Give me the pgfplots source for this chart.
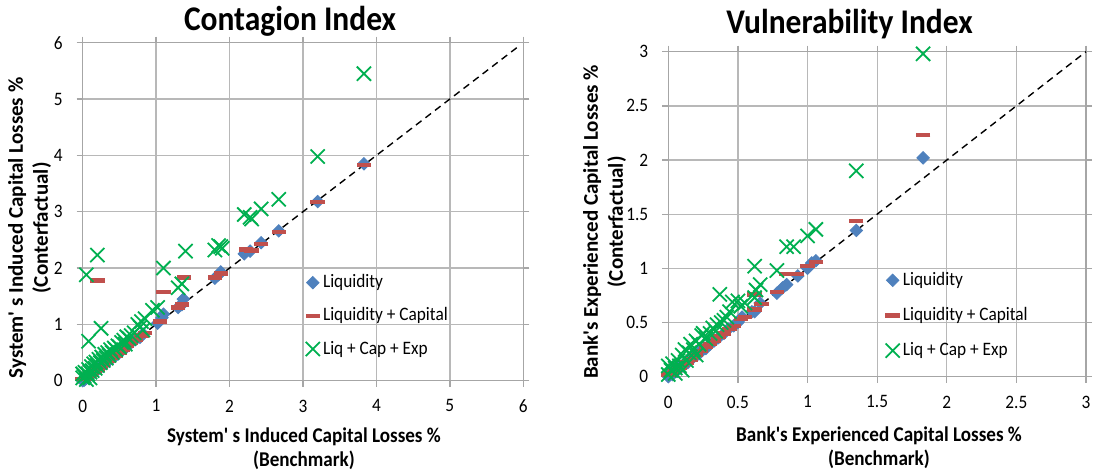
\documentclass[border=0pt]{standalone}
\usepackage{pgfplots}
\pgfplotsset{compat=1.18}
\usepackage{fontspec}
\setmainfont{Carlito}[Ligatures=TeXOff]
\newfontfamily\hfont{Carlito}[Ligatures=TeXOff, FakeStretch=0.91]
\definecolor{cblue}{HTML}{4F81BD}
\definecolor{cred}{HTML}{C0504D}
\definecolor{cgreen}{HTML}{00B050}
\pgfplotsset{
  mystyle/.style={
    scale only axis,
    axis line style={black!35, line width=0.65pt},
    grid=major,
    major grid style={black!28, line width=0.65pt},
    tick align=outside,
    major tick length=3pt,
    tick style={black!35, line width=0.65pt},
    ticklabel style={font=\hfont\fontsize{9.5}{11}\selectfont},
    xticklabel style={yshift=-3pt},
    yticklabel style={xshift=-3.5pt},
    /pgf/number format/assume math mode=true,
    clip=false,
    legend style={draw=none, fill=none, font=\hfont\fontsize{9.5}{11}\selectfont,
      anchor=north west, inner sep=0pt,
      nodes={inner xsep=1.5pt}},
    legend cell align=left,
    legend image code/.code={\draw[##1] plot[only marks] coordinates {(0.12cm,0cm)};},
  },
  liq/.style={only marks, mark=square*, mark size=2.2pt, color=cblue,
    mark options={rotate=45, draw=cblue, fill=cblue}},
  liqcap/.style={only marks, mark=-, mark size=3.6pt, color=cred,
    mark options={line width=2.2pt, draw=cred}},
  lce/.style={only marks, mark=x, mark size=5pt, color=cgreen,
    mark options={line width=0.9pt, draw=cgreen}},
  diag/.style={black, line width=0.7pt, dash pattern=on 3.5pt off 2.5pt, forget plot},
}
\begin{document}
\begin{tikzpicture}[x=1pt,y=1pt]
\path[use as bounding box] (0,0) rectangle (546.5,236);
\begin{axis}[mystyle,
  at={(41.35pt,45.65pt)}, anchor=south west,
  width=220.3pt, height=169pt,
  xmin=0, xmax=6, ymin=0, ymax=6,
  xtick={0,1,2,3,4,5,6}, ytick={0,1,2,3,4,5,6},
  legend style={at={(0.505,0.327)}, row sep=4.5pt},
]
\addplot[liq] coordinates {
(0,0) (0.02,0.01) (0.04,0.03) (0.05,0.05) (0.07,0.06) (0.08,0.08) (0.1,0.1)
(0.12,0.11) (0.14,0.14) (0.16,0.16) (0.18,0.17) (0.2,0.2) (0.22,0.22) (0.24,0.23)
(0.27,0.27) (0.3,0.3) (0.33,0.33) (0.36,0.36) (0.4,0.4) (0.44,0.44) (0.48,0.47)
(0.52,0.52) (0.56,0.57) (0.6,0.6) (0.65,0.66) (0.72,0.73) (0.78,0.77) (0.82,0.83)
(1.02,1.02) (1.08,1.12) (1.1,1.18) (1.3,1.3) (1.35,1.35) (1.37,1.45) (1.8,1.82)
(1.85,1.88) (1.88,1.93) (2.2,2.25) (2.28,2.3) (2.43,2.45) (2.67,2.66) (3.2,3.18)
(3.83,3.85)};
\addlegendentry{Liquidity}
\addplot[liqcap] coordinates {
(0,0.03) (0.03,0.03) (0.05,0.05) (0.08,0.09) (0.1,0.1) (0.13,0.14) (0.16,0.16)
(0.2,0.2) (0.2,1.78) (0.24,0.25) (0.28,0.28) (0.32,0.33) (0.36,0.36) (0.4,0.41)
(0.45,0.45) (0.5,0.5) (0.55,0.55) (0.6,0.62) (0.65,0.67) (0.72,0.72) (0.8,0.8)
(0.85,0.85) (1.05,1.05) (1.1,1.57) (1.3,1.3) (1.35,1.35) (1.38,1.83) (1.8,1.83)
(1.88,1.9) (2.22,2.33) (2.3,2.31) (2.43,2.43) (2.67,2.64) (3.2,3.17) (3.83,3.83)};
\addlegendentry{Liquidity + Capital}
\addplot[lce] coordinates {
(0,0.05) (0,0.12) (0.02,0.08) (0.03,0.15) (0.05,0.02) (0.05,1.88) (0.07,0.12)
(0.08,0.7) (0.08,0.2) (0.1,0.15) (0.1,0.05) (0.12,0.25) (0.13,0.18) (0.15,0.3)
(0.17,0.22) (0.18,0.33) (0.2,0.27) (0.2,2.23) (0.22,0.38) (0.24,0.32) (0.25,0.93)
(0.26,0.42) (0.28,0.36) (0.3,0.47) (0.32,0.4) (0.34,0.5) (0.36,0.45) (0.38,0.55)
(0.4,0.5) (0.43,0.58) (0.45,0.55) (0.48,0.62) (0.5,0.6) (0.53,0.68) (0.56,0.72)
(0.58,0.65) (0.6,0.78) (0.63,0.75) (0.66,0.8) (0.7,0.85) (0.75,1.0) (0.78,0.95)
(0.8,1.05) (0.82,0.9) (0.85,1.1) (0.95,1.25) (1.02,1.3) (1.1,2.0) (1.3,1.65)
(1.35,1.72) (1.4,2.3) (1.8,2.32) (1.85,2.4) (1.88,2.38) (1.9,2.35) (2.2,2.95)
(2.28,2.9) (2.3,2.87) (2.43,3.05) (2.67,3.22) (3.2,3.98) (3.83,5.45)};
\addlegendentry{Liq + Cap + Exp}
\addplot[diag] coordinates {(0,0) (5.95,5.95)};
\end{axis}
\begin{axis}[mystyle,
  at={(334.15pt,47.65pt)}, anchor=south west,
  width=208.85pt, height=162.5pt,
  xmin=0, xmax=3, ymin=0, ymax=3,
  xtick={0,0.5,1,1.5,2,2.5,3}, ytick={0,0.5,1,1.5,2,2.5,3},
  legend style={at={(0.519,0.335)}, row sep=5.5pt},
]
\addplot[liq] coordinates {
(0,0) (0.01,0.02) (0.03,0.02) (0.04,0.05) (0.06,0.05) (0.08,0.09) (0.1,0.1)
(0.12,0.12) (0.14,0.13) (0.16,0.17) (0.18,0.18) (0.2,0.2) (0.22,0.21) (0.24,0.25)
(0.27,0.26) (0.3,0.3) (0.33,0.33) (0.36,0.36) (0.4,0.4) (0.43,0.44) (0.47,0.47)
(0.5,0.5) (0.53,0.55) (0.6,0.6) (0.62,0.6) (0.66,0.68) (0.78,0.77) (0.82,0.82)
(0.85,0.85) (0.93,0.93) (1.0,1.0) (1.03,1.05) (1.06,1.07) (1.35,1.35) (1.83,2.02)};
\addlegendentry{Liquidity}
\addplot[liqcap] coordinates {
(0,0.02) (0.02,0.03) (0.05,0.05) (0.08,0.08) (0.1,0.11) (0.13,0.13) (0.16,0.16)
(0.2,0.2) (0.23,0.24) (0.27,0.28) (0.3,0.3) (0.33,0.33) (0.36,0.37) (0.4,0.4)
(0.44,0.44) (0.47,0.47) (0.52,0.53) (0.55,0.55) (0.62,0.76) (0.62,0.62) (0.67,0.67)
(0.78,0.78) (0.85,0.95) (0.92,0.95) (1.0,1.02) (1.06,1.06) (1.35,1.44) (1.83,2.23)};
\addlegendentry{Liquidity + Capital}
\addplot[lce] coordinates {
(0,0.02) (0,0.1) (0.02,0.06) (0.03,0.12) (0.05,0.03) (0.05,0.08) (0.07,0.15)
(0.08,0.1) (0.1,0.2) (0.1,0.06) (0.12,0.25) (0.13,0.15) (0.15,0.22) (0.16,0.3)
(0.18,0.25) (0.2,0.33) (0.2,0.2) (0.22,0.3) (0.24,0.38) (0.25,0.4) (0.27,0.35)
(0.3,0.4) (0.32,0.45) (0.34,0.42) (0.35,0.48) (0.37,0.76) (0.38,0.5) (0.4,0.52)
(0.42,0.55) (0.44,0.6) (0.46,0.69) (0.5,0.7) (0.52,0.65) (0.55,0.68) (0.62,0.73)
(0.62,1.02) (0.63,0.8) (0.66,0.85) (0.78,0.98) (0.85,1.2) (0.9,1.2) (1.0,1.3)
(1.06,1.36) (1.35,1.9) (1.83,2.98)};
\addlegendentry{Liq + Cap + Exp}
\addplot[diag] coordinates {(0,0) (3,3)};
\end{axis}
% titles
\node[anchor=base, font=\hfont\bfseries\fontsize{17.3}{19}\selectfont] at (145,220.5) {Contagion Index};
\node[anchor=base, font=\hfont\bfseries\fontsize{17.3}{19}\selectfont] at (424.75,219) {Vulnerability Index};
% x labels
\node[align=center, font=\hfont\bfseries\fontsize{10.5}{12}\selectfont] at (152,11.5)
  {System' s Induced Capital Losses \%\\(Benchmark)};
\node[align=center, font=\hfont\bfseries\fontsize{10.5}{12}\selectfont] at (439.5,12)
  {Bank's Experienced Capital Losses \%\\(Benchmark)};
% y labels
\node[align=center, rotate=90, font=\bfseries\fontsize{10.5}{12.5}\selectfont] at (14.75,122)
  {System' s Induced Capital Losses \%\\(Conterfactual)};
\node[align=center, rotate=90, font=\bfseries\fontsize{10.5}{12.5}\selectfont] at (302.25,125)
  {Bank's Experienced Capital Losses \%\\(Conterfactual)};
\end{tikzpicture}
\end{document}
